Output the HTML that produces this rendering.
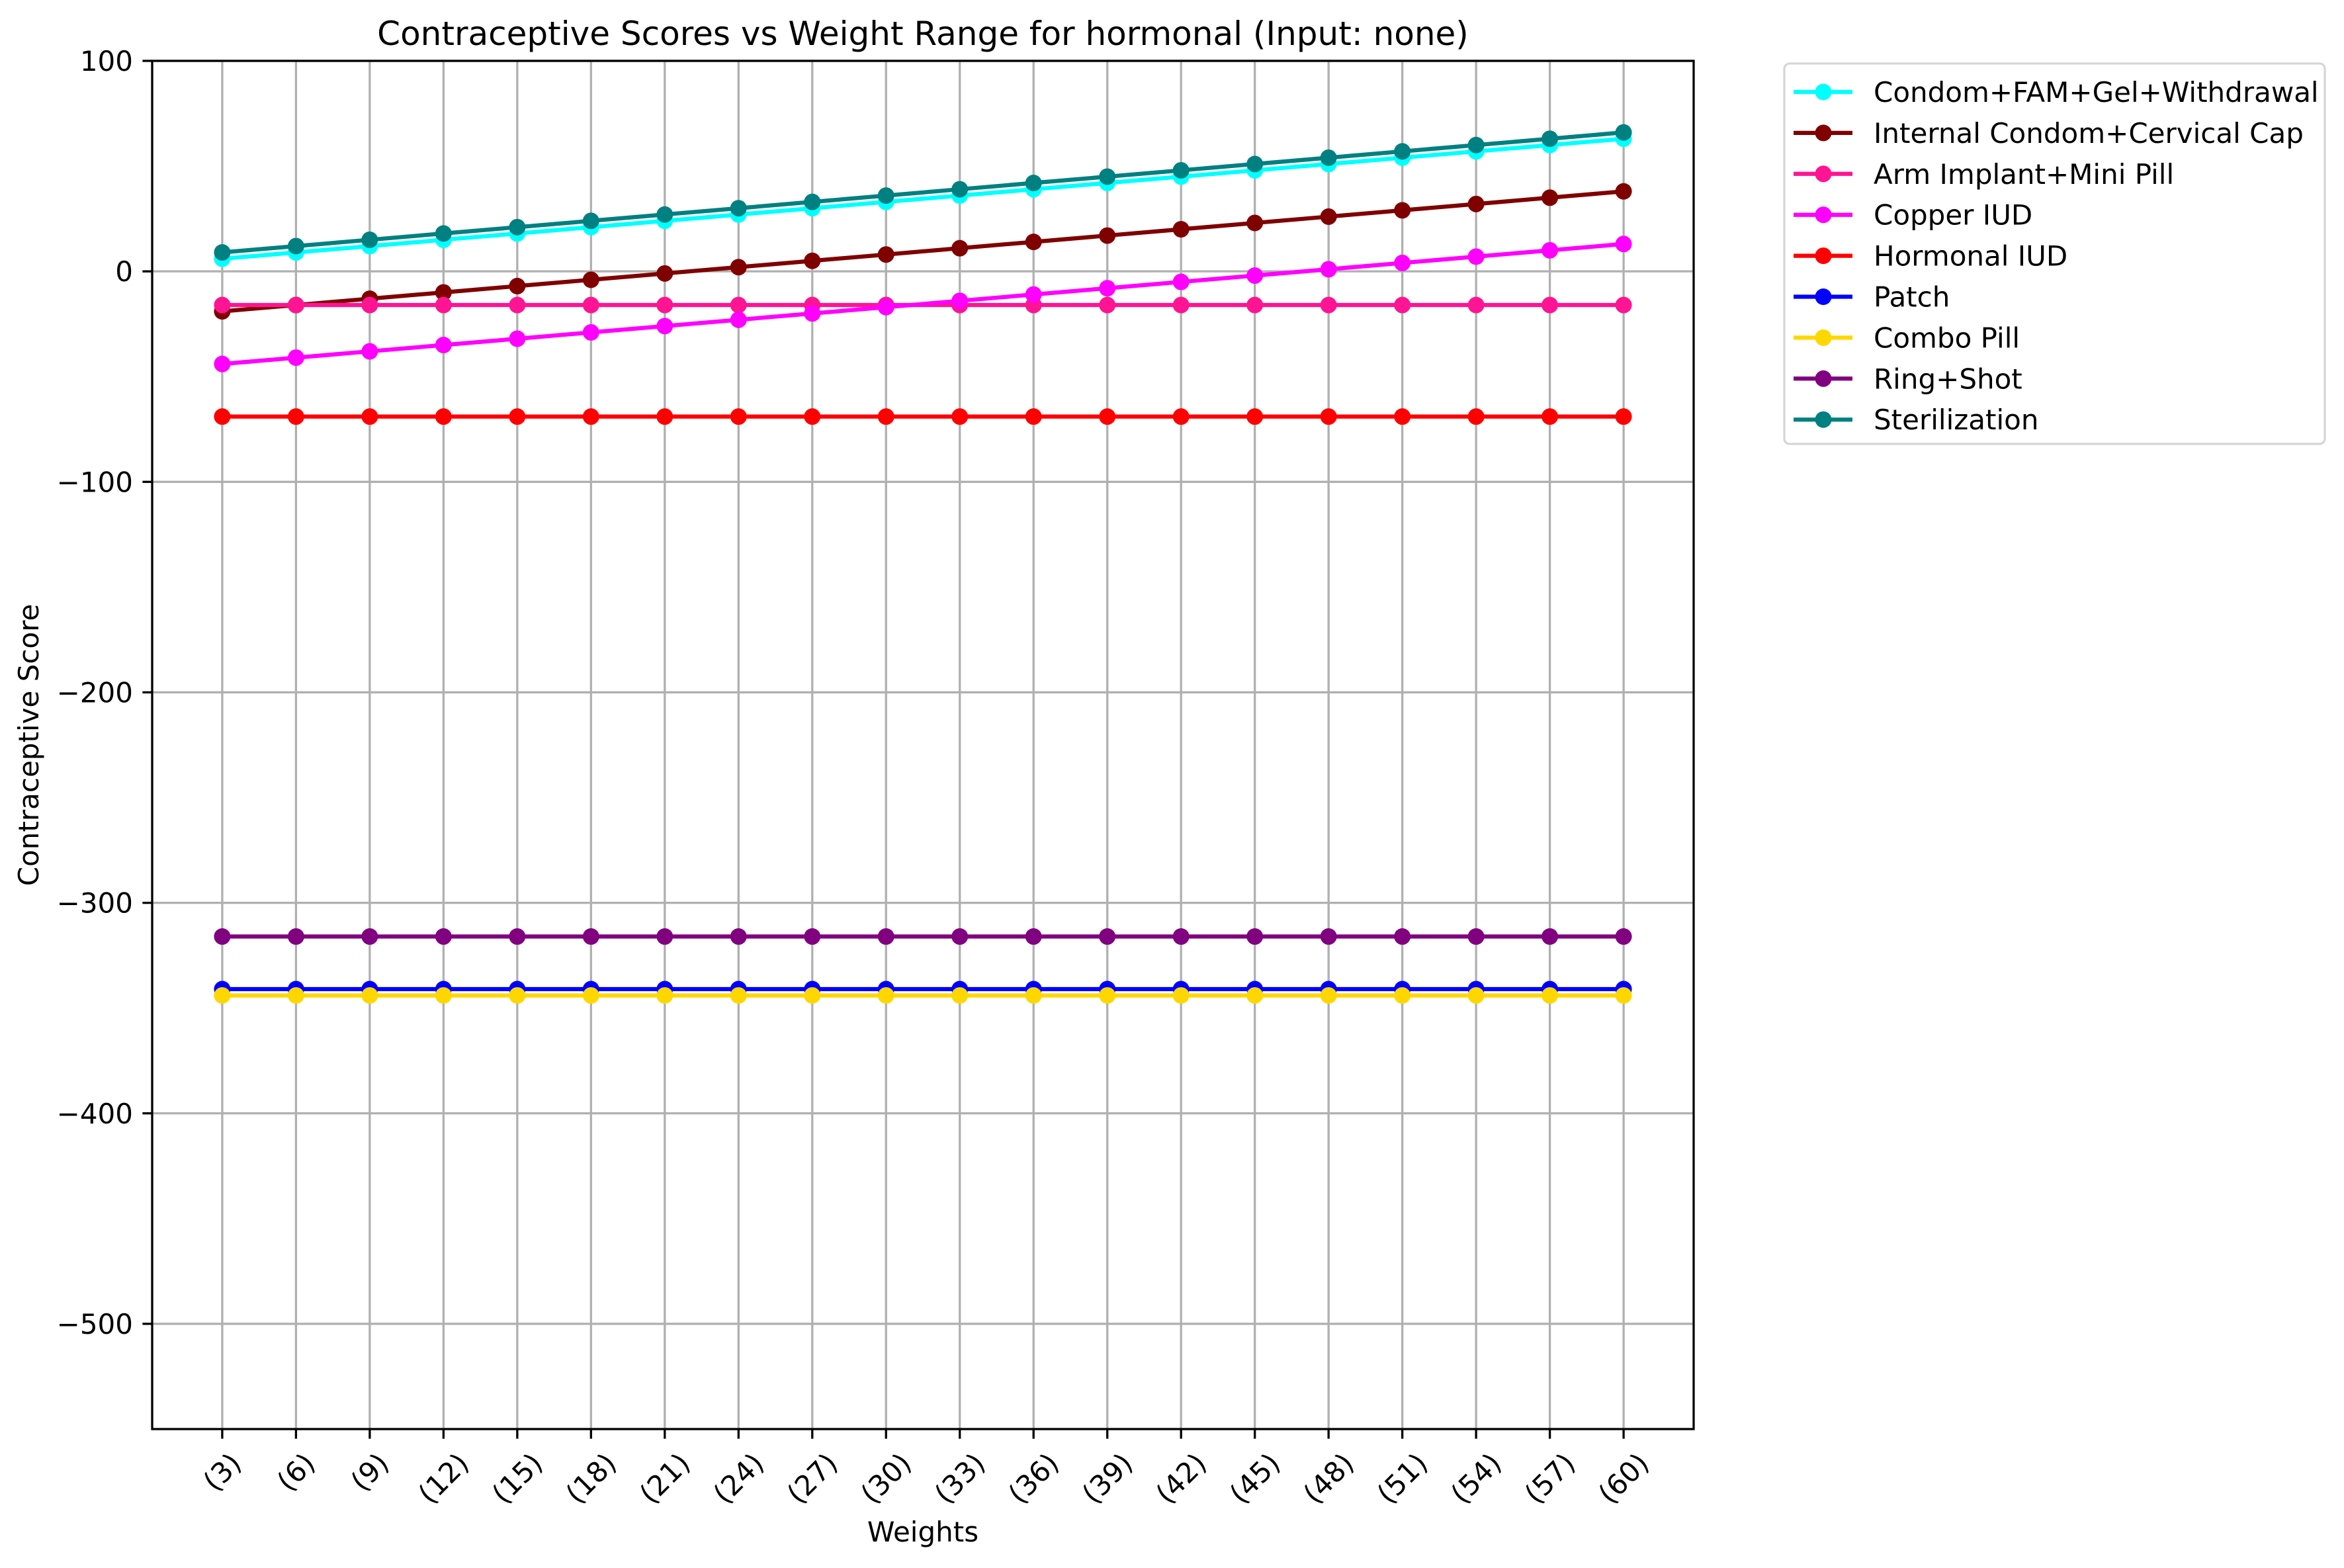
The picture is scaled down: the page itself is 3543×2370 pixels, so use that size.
<!DOCTYPE html>
<html><head><meta charset="utf-8"><style>
html,body{margin:0;padding:0;background:#fff;}
svg text{font-family:"DejaVu Sans","Liberation Sans",sans-serif;fill:#000;}
</style></head><body>
<svg id="chart" width="3543" height="2365" viewBox="0 0 3543 2365" xmlns="http://www.w3.org/2000/svg">
<rect x="0" y="0" width="3543" height="2365" fill="#fff"/>
<text x="1395" y="68" font-size="50" text-anchor="middle">Contraceptive Scores vs Weight Range for hormonal (Input: none)</text>
<g id="grid"></g>
<g id="series"></g>
<g id="axes"></g>
<text x="1395" y="2330" font-size="42" text-anchor="middle">Weights</text>
<text x="0" y="0" font-size="42" text-anchor="middle" transform="translate(58,1126) rotate(-90)">Contraceptive Score</text>
<g id="legend"></g>
</svg>
<script>
const categories = ["(3)","(6)","(9)","(12)","(15)","(18)","(21)","(24)","(27)","(30)","(33)","(36)","(39)","(42)","(45)","(48)","(51)","(54)","(57)","(60)"];
const seriesNames = ["Condom+FAM+Gel+Withdrawal","Internal Condom+Cervical Cap","Arm Implant+Mini Pill","Copper IUD","Hormonal IUD","Patch","Combo Pill","Ring+Shot","Sterilization"];
const seriesColors = ["#00ffff","#800000","#ff1493","#ff00ff","#ff0000","#0000ff","#ffd700","#800080","#008080"];
const condomFam = [6,9,12,15,18,21,24,27,30,33,36,39,42,45,48,51,54,57,60,63];
const internalCondom = [-19,-16,-13,-10,-7,-4,-1,2,5,8,11,14,17,20,23,26,29,32,35,38];
const armImplant = [-16,-16,-16,-16,-16,-16,-16,-16,-16,-16,-16,-16,-16,-16,-16,-16,-16,-16,-16,-16];
const copperIud = [-44,-41,-38,-35,-32,-29,-26,-23,-20,-17,-14,-11,-8,-5,-2,1,4,7,10,13];
const hormonalIud = [-69,-69,-69,-69,-69,-69,-69,-69,-69,-69,-69,-69,-69,-69,-69,-69,-69,-69,-69,-69];
const patch = [-341,-341,-341,-341,-341,-341,-341,-341,-341,-341,-341,-341,-341,-341,-341,-341,-341,-341,-341,-341];
const comboPill = [-344,-344,-344,-344,-344,-344,-344,-344,-344,-344,-344,-344,-344,-344,-344,-344,-344,-344,-344,-344];
const ringShot = [-316,-316,-316,-316,-316,-316,-316,-316,-316,-316,-316,-316,-316,-316,-316,-316,-316,-316,-316,-316];
const sterilization = [9,12,15,18,21,24,27,30,33,36,39,42,45,48,51,54,57,60,63,66];
const yTicks = [100,0,-100,-200,-300,-400,-500];
const yMin = -550, yMax = 100;

const allSeries = [condomFam,internalCondom,armImplant,copperIud,hormonalIud,patch,comboPill,ringShot,sterilization];
const NS = "http://www.w3.org/2000/svg";
const L = 230, R = 2560, T = 92, B = 2160;
const n = categories.length;
const xMinD = -0.05*(n-1), xMaxD = (n-1)*1.05;
function xS(i){ return L + (i - xMinD)/(xMaxD - xMinD)*(R-L); }
function yS(v){ return B - (v - yMin)/(yMax - yMin)*(B-T); }
function mk(tag, attrs, parent){ const e=document.createElementNS(NS,tag); for(const k in attrs) e.setAttribute(k, attrs[k]); parent.appendChild(e); return e; }

const grid = document.getElementById('grid');
const axes = document.getElementById('axes');
categories.forEach((c,i)=>{
  const x=xS(i);
  const g = mk('line',{x1:x,x2:x,y1:T,y2:B,stroke:'#b0b0b0','stroke-width':3.3},grid);
  
  
  const t = mk('line',{x1:x,x2:x,y1:B,y2:B+14.6,stroke:'#000','stroke-width':3.3},axes);
  
  
  const lab = mk('text',{'font-size':42,'text-anchor':'middle','dominant-baseline':'central'},axes);
  lab.textContent = c;
  
  
  const w = lab.getComputedTextLength ? lab.getComputedTextLength() : 60;
  const cy = B + 14.6 + 14.6 + (w + 42)*0.3536;
  lab.setAttribute('transform','translate('+x+','+cy+') rotate(-45)');
});
yTicks.forEach(v=>{
  const y=yS(v);
  const g = mk('line',{x1:L,x2:R,y1:y,y2:y,stroke:'#b0b0b0','stroke-width':3.3},grid);
  
  
  const t = mk('line',{x1:L-14.6,x2:L,y1:y,y2:y,stroke:'#000','stroke-width':3.3},axes);
  
  
  const lab = mk('text',{x:L-29,y:y+15,'font-size':42,'text-anchor':'end'},axes);
  lab.textContent = v<0 ? '\u2212'+Math.abs(v) : String(v);
  
  
});
const frame = mk('rect',{x:L,y:T,width:R-L,height:B-T,fill:'none',stroke:'#000','stroke-width':3.3},axes);



const sg = document.getElementById('series');
allSeries.forEach((vals,si)=>{
  const g = mk('g',{},sg);
  
  
  const pts = vals.map((v,i)=>xS(i)+','+yS(v)).join(' ');
  const pl = mk('polyline',{points:pts,fill:'none',stroke:seriesColors[si],'stroke-width':6.25,'stroke-linejoin':'round'},g);
  
  
  vals.forEach((v,i)=>{
    const c = mk('circle',{cx:xS(i),cy:yS(v),r:12.5,fill:seriesColors[si]},g);
    
    
  });
});

const lg = document.getElementById('legend');


const box = mk('rect',{x:2697,y:96,width:817,height:575,rx:8,fill:'#fff','fill-opacity':0.8,stroke:'#d6d6d6','stroke-width':3.3},lg);


seriesNames.forEach((nm,i)=>{
  const y = 139 + i*61.9;
  const e = mk('g',{},lg);
  
  
  mk('line',{x1:2711,x2:2800,y1:y,y2:y,stroke:seriesColors[i],'stroke-width':6.25},e);
  mk('circle',{cx:2756,cy:y,r:12.5,fill:seriesColors[i]},e);
  const t = mk('text',{x:2832,y:y+15,'font-size':42},e);
  t.textContent = nm;
});
</script>
</body></html>
